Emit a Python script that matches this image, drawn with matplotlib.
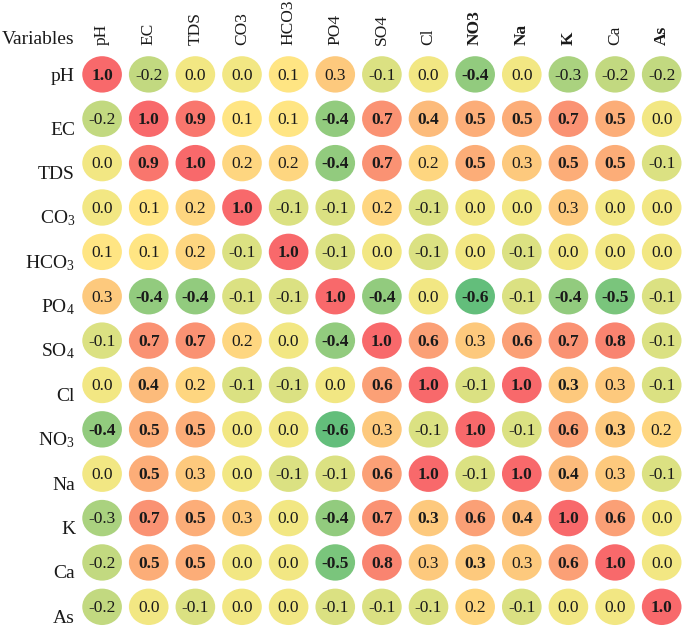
import numpy as np
import matplotlib
matplotlib.use("Agg")
import matplotlib.pyplot as plt
from matplotlib.patches import Ellipse
from matplotlib.colors import LinearSegmentedColormap

col_labels = ["pH", "EC", "TDS", "CO3", "HCO3", "PO4", "SO4", "Cl", "NO3", "Na", "K", "Ca", "As"]
row_labels = ["pH", "EC", "TDS", r"CO$_3$", r"HCO$_3$", r"PO$_4$", r"SO$_4$", "Cl",
              r"NO$_3$", "Na", "K", "Ca", "As"]
bold_cols = ["NO3", "Na", "K", "As"]

corr = np.array([
    [1.0, -0.2, 0.0, 0.0, 0.1, 0.3, -0.1, 0.0, -0.4, 0.0, -0.3, -0.2, -0.2],
    [-0.2, 1.0, 0.9, 0.1, 0.1, -0.4, 0.7, 0.4, 0.5, 0.5, 0.7, 0.5, 0.0],
    [0.0, 0.9, 1.0, 0.2, 0.2, -0.4, 0.7, 0.2, 0.5, 0.3, 0.5, 0.5, -0.1],
    [0.0, 0.1, 0.2, 1.0, -0.1, -0.1, 0.2, -0.1, 0.0, 0.0, 0.3, 0.0, 0.0],
    [0.1, 0.1, 0.2, -0.1, 1.0, -0.1, 0.0, -0.1, 0.0, -0.1, 0.0, 0.0, 0.0],
    [0.3, -0.4, -0.4, -0.1, -0.1, 1.0, -0.4, 0.0, -0.6, -0.1, -0.4, -0.5, -0.1],
    [-0.1, 0.7, 0.7, 0.2, 0.0, -0.4, 1.0, 0.6, 0.3, 0.6, 0.7, 0.8, -0.1],
    [0.0, 0.4, 0.2, -0.1, -0.1, 0.0, 0.6, 1.0, -0.1, 1.0, 0.3, 0.3, -0.1],
    [-0.4, 0.5, 0.5, 0.0, 0.0, -0.6, 0.3, -0.1, 1.0, -0.1, 0.6, 0.3, 0.2],
    [0.0, 0.5, 0.3, 0.0, -0.1, -0.1, 0.6, 1.0, -0.1, 1.0, 0.4, 0.3, -0.1],
    [-0.3, 0.7, 0.5, 0.3, 0.0, -0.4, 0.7, 0.3, 0.6, 0.4, 1.0, 0.6, 0.0],
    [-0.2, 0.5, 0.5, 0.0, 0.0, -0.5, 0.8, 0.3, 0.3, 0.3, 0.6, 1.0, 0.0],
    [-0.2, 0.0, -0.1, 0.0, 0.0, -0.1, -0.1, -0.1, 0.2, -0.1, 0.0, 0.0, 1.0],
])

# 1 = significant (bold value)
bold = np.array([
    [1, 0, 0, 0, 0, 0, 0, 0, 1, 0, 0, 0, 0],
    [0, 1, 1, 0, 0, 1, 1, 1, 1, 1, 1, 1, 0],
    [0, 1, 1, 0, 0, 1, 1, 0, 1, 0, 1, 1, 0],
    [0, 0, 0, 1, 0, 0, 0, 0, 0, 0, 0, 0, 0],
    [0, 0, 0, 0, 1, 0, 0, 0, 0, 0, 0, 0, 0],
    [0, 1, 1, 0, 0, 1, 1, 0, 1, 0, 1, 1, 0],
    [0, 1, 1, 0, 0, 1, 1, 1, 0, 1, 1, 1, 0],
    [0, 1, 0, 0, 0, 0, 1, 1, 0, 1, 1, 0, 0],
    [1, 1, 1, 0, 0, 1, 0, 0, 1, 0, 1, 1, 0],
    [0, 1, 0, 0, 0, 0, 1, 1, 0, 1, 1, 0, 0],
    [0, 1, 1, 0, 0, 1, 1, 1, 1, 1, 1, 1, 0],
    [0, 1, 1, 0, 0, 1, 1, 0, 1, 0, 1, 1, 0],
    [0, 0, 0, 0, 0, 0, 0, 0, 0, 0, 0, 0, 1],
])

plt.rcParams["font.family"] = ["Liberation Serif", "DejaVu Serif"]
plt.rcParams["mathtext.fontset"] = "custom"
plt.rcParams["mathtext.rm"] = "Liberation Serif"
plt.rcParams["mathtext.it"] = "Liberation Serif:italic"
plt.rcParams["mathtext.bf"] = "Liberation Serif:bold"

# Excel style 3-colour scale
vmin, vmid, vmax = -0.6, 0.05, 1.0
cmap = LinearSegmentedColormap.from_list(
    "excel", [(0.0, "#63BE7B"), ((vmid - vmin) / (vmax - vmin), "#FFEB84"), (1.0, "#F8696B")]
)

fig = plt.figure(figsize=(6.85, 6.29), dpi=100)
ax = fig.add_axes([0.115, 0.0, 0.885, 0.917])
n = len(col_labels)
ax.set_xlim(-0.5, n - 0.5)
ax.set_ylim(n - 0.5, -0.5)
ax.axis("off")

for i in range(n):
    for j in range(n):
        v = corr[i, j]
        c = cmap((v - vmin) / (vmax - vmin))
        ax.add_patch(Ellipse((j, i), 0.85, 0.82, facecolor=c, edgecolor="none"))
        ax.text(j, i + 0.03, f"{v:.1f}", ha="center", va="center", fontsize=12.5,
                fontweight="bold" if bold[i, j] else "normal", color="#1a1a1a")

for j, lab in enumerate(col_labels):
    ax.text(j, -0.66, lab, rotation=90, ha="center", va="bottom", fontsize=12.5,
            fontweight="bold" if lab in bold_cols else "normal", color="#1a1a1a")

for i, lab in enumerate(row_labels):
    dy = 0.14 if lab == "pH" else 0.36
    ax.text(-0.58, i + dy, lab, ha="right", va="baseline", fontsize=14, color="#1a1a1a")

fig.text(2 / 685, 1 - 44 / 629, "Variables", ha="left", va="baseline", fontsize=14, color="#1a1a1a")

fig.savefig("out.png", dpi=100)
